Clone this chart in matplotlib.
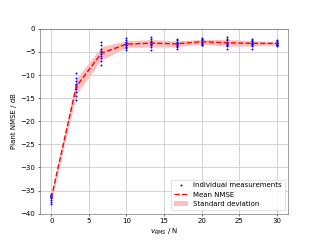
import matplotlib
matplotlib.use("Agg")
import matplotlib.pyplot as plt
import numpy as np

# excitation levels (N)
v_rms = [0, 3.33, 6.67, 10, 13.33, 16.67, 20, 23.33, 26.67, 30]

measurements = [
    [-35.8, -36.0, -36.1, -36.2, -36.3, -36.5, -36.7, -37.0, -37.5, -38.0],
    [-9.5, -10.6, -11.4, -11.9, -12.2, -12.6, -13.0, -13.6, -14.6, -15.4],
    [-2.8, -3.6, -4.3, -4.8, -5.1, -5.4, -5.8, -6.3, -7.0, -7.8],
    [-2.0, -2.5, -2.8, -3.0, -3.2, -3.4, -3.6, -3.9, -4.2, -4.5],
    [-1.8, -2.3, -2.6, -2.8, -3.0, -3.1, -3.3, -3.6, -4.0, -4.6],
    [-2.2, -2.5, -2.8, -3.0, -3.1, -3.3, -3.5, -3.7, -4.0, -4.4],
    [-2.0, -2.2, -2.4, -2.6, -2.7, -2.8, -3.0, -3.2, -3.4, -3.6],
    [-1.7, -2.2, -2.5, -2.8, -3.0, -3.1, -3.3, -3.5, -3.8, -4.3],
    [-2.2, -2.5, -2.7, -2.9, -3.0, -3.2, -3.3, -3.5, -3.8, -4.3],
    [-2.5, -2.7, -2.9, -3.0, -3.1, -3.2, -3.4, -3.5, -3.6, -3.8],
]

meas = np.array(measurements)
mean_nmse = meas.mean(axis=1)
std_nmse = meas.std(axis=1)

fig, ax = plt.subplots(figsize=(6.4, 4.8), dpi=50)

for x, vals in zip(v_rms, measurements):
    ax.plot([x] * len(vals), vals, ".", color="blue", markersize=3.5,
            label="Individual measurements" if x == v_rms[0] else None)
ax.plot(v_rms, mean_nmse, "--", color="red", linewidth=2, label="Mean NMSE")
ax.fill_between(v_rms, mean_nmse - std_nmse, mean_nmse + std_nmse,
                color="red", alpha=0.25, linewidth=0, label="Standard deviation")

ax.set_ylim(-40, 0)
ax.set_xlabel("$v_{RMS}$ / N")
ax.set_ylabel("Plant NMSE / dB")
ax.grid(True, color="#cccccc", linewidth=1.2)
for s in ax.spines.values():
    s.set_color("#555555")
ax.legend(loc="lower right")

plt.savefig("out.png", dpi=50)
